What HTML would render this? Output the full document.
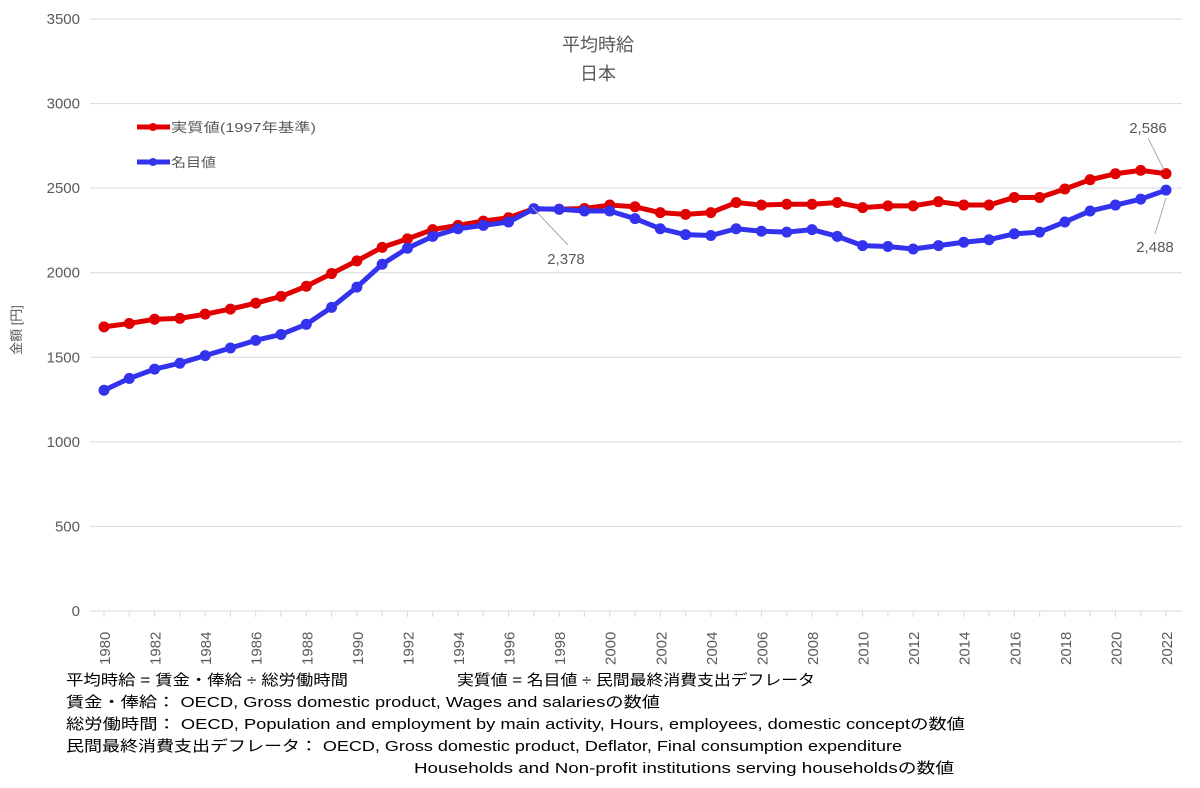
<!DOCTYPE html>
<html><head><meta charset="utf-8"><style>
body{margin:0;background:#fff;width:1200px;height:783px;overflow:hidden;font-family:"Liberation Sans","Noto Sans CJK JP",sans-serif;}
svg text{font-family:"Liberation Sans","Noto Sans CJK JP",sans-serif;}
</style></head><body>
<svg id="s" width="1200" height="783" xmlns="http://www.w3.org/2000/svg"></svg>
<script>
const s=document.getElementById('s');
const real=[1680,1700,1725,1730,1755,1785,1820,1860,1920,1995,2070,2150,2200,2255,2280,2305,2325,2378,2375,2380,2400,2390,2355,2345,2355,2415,2400,2405,2405,2415,2385,2395,2395,2420,2400,2400,2445,2445,2495,2550,2585,2605,2586];
const nom=[1305,1375,1430,1465,1510,1555,1600,1635,1695,1795,1915,2050,2145,2215,2260,2280,2300,2378,2375,2365,2365,2320,2260,2225,2220,2260,2245,2240,2255,2215,2160,2155,2140,2160,2180,2195,2230,2240,2300,2365,2400,2435,2488];
const X=i=>104+i*25.286, Y=v=>611-v*(592/3500);
let h='';
for(let v=0;v<=3500;v+=500){const y=Y(v);h+=`<line x1="90" x2="1182" y1="${y}" y2="${y}" stroke="#d9d9d9" stroke-width="1"/><text x="80" y="${y+5}" text-anchor="end" font-size="15" fill="#595959">${v}</text>`;}
for(let i=0;i<=42;i++){const x=X(i);h+=`<line x1="${x}" x2="${x}" y1="611" y2="617" stroke="#d9d9d9"/>`;if(i%2==0)h+=`<text transform="translate(${x+6},665) rotate(-90)" font-size="15" fill="#595959">${1980+i}</text>`;}
function ser(d,c){let p=d.map((v,i)=>X(i)+','+Y(v)).join(' ');let r=`<polyline points="${p}" fill="none" stroke="${c}" stroke-width="5" stroke-linejoin="round"/>`;d.forEach((v,i)=>r+=`<circle cx="${X(i)}" cy="${Y(v)}" r="5.5" fill="${c}"/>`);return r;}
h+=ser(real,'#e00000')+ser(nom,'#3333ee');
h+=`<text x="598" y="51" text-anchor="middle" font-size="18" fill="#595959">平均時給</text><text x="598" y="80" text-anchor="middle" font-size="18" fill="#595959">日本</text>`;
h+=`<line x1="137" x2="170" y1="127" y2="127" stroke="#e00000" stroke-width="5"/><circle cx="153" cy="127" r="4" fill="#e00000"/><text x="171" y="132" font-size="13" fill="#595959" textLength="145" lengthAdjust="spacingAndGlyphs">実質値(1997年基準)</text>`;
h+=`<line x1="137" x2="170" y1="162" y2="162" stroke="#3333ee" stroke-width="5"/><circle cx="153" cy="162" r="4" fill="#3333ee"/><text x="171" y="167" font-size="13" fill="#595959" textLength="45" lengthAdjust="spacingAndGlyphs">名目値</text>`;
h+=`<text x="21" y="330" transform="rotate(-90 21 330)" text-anchor="middle" font-size="13" fill="#595959">金額 [円]</text>`;
h+=`<line x1="532" y1="207" x2="568" y2="245" stroke="#aaa"/><text x="566" y="264" text-anchor="middle" font-size="15" fill="#595959">2,378</text>`;
h+=`<line x1="1148" y1="138" x2="1164" y2="170" stroke="#aaa"/><text x="1148" y="133" text-anchor="middle" font-size="15" fill="#595959">2,586</text>`;
h+=`<line x1="1166" y1="198" x2="1155" y2="234" stroke="#aaa"/><text x="1155" y="252" text-anchor="middle" font-size="15" fill="#595959">2,488</text>`;
const f=[[66,685,'平均時給 = 賃金・俸給 ÷ 総労働時間',282],[457,685,'実質値 = 名目値 ÷ 民間最終消費支出デフレータ',358],[66,707,'賃金・俸給： OECD, Gross domestic product, Wages and salariesの数値',594],[66,729,'総労働時間： OECD, Population and employment by main activity, Hours, employees, domestic conceptの数値',899],[66,751,'民間最終消費支出デフレータ： OECD, Gross domestic product, Deflator, Final consumption expenditure',836],[414,773,'Households and Non-profit institutions serving householdsの数値',540]];
f.forEach(a=>h+=`<text x="${a[0]}" y="${a[1]}" font-size="15" fill="#000" textLength="${a[3]}" lengthAdjust="spacingAndGlyphs">${a[2]}</text>`);
s.innerHTML=h;
</script>
</body></html>
